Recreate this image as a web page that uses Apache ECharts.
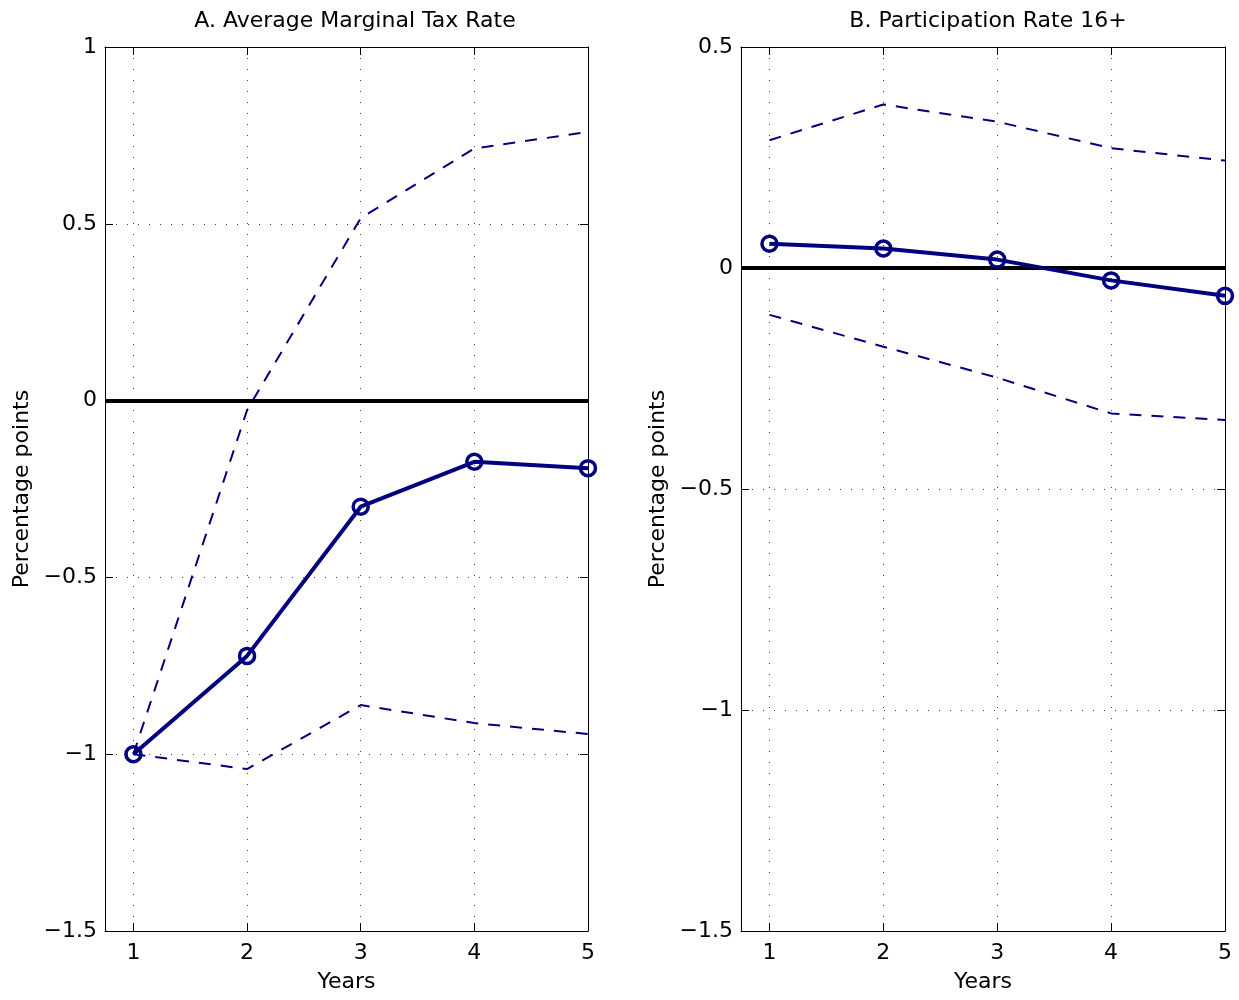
<!DOCTYPE html>
<html><head><meta charset="utf-8">
<script src="https://cdn.jsdelivr.net/npm/echarts@6/dist/echarts.min.js"></script>
<style>html,body{margin:0;padding:0;background:#fff}#c{width:1239px;height:1000px}</style>
</head><body><div id="c"></div>
<script>
const years = [1, 2, 3, 4, 5];
const xTicks = [1, 2, 3, 4, 5];
const titles = ['A. Average Marginal Tax Rate', 'B. Participation Rate 16+'];
const taxMain  = [-1.0, -0.722, -0.300, -0.173, -0.191];
const taxUpper = [-1.0, -0.027, 0.516, 0.713, 0.760];
const taxLower = [-1.0, -1.042, -0.861, -0.912, -0.943];
const partMain  = [0.055, 0.044, 0.019, -0.028, -0.063];
const partUpper = [0.289, 0.370, 0.331, 0.271, 0.243];
const partLower = [-0.106, -0.178, -0.248, -0.329, -0.344];
const yTicksA = [-1.5, -1, -0.5, 0, 0.5, 1];
const yTicksB = [-1.5, -1, -0.5, 0, 0.5];

const FONT = 'DejaVu Sans';
const FS = 22;
const NAVY = '#000080';
const fmt = v => String(v).replace('-', '\u2212');
const pair = arr => years.map((x, i) => [x, arr[i]]);

const grids = [
  {left: 105, right: 651, top: 47, bottom: 69},
  {left: 741, right: 14, top: 47, bottom: 69}
];
const dotted = {show: true, lineStyle: {color: '#444', type: [1, 10], width: 1}};
const axisLine = {show: true, onZero: false, lineStyle: {color: '#000', width: 1}};
const tick = {show: true, inside: true, length: 8, lineStyle: {color: '#000'}, customValues: xTicks};

const xAxis = [], yAxis = [], series = [];
[0, 1].forEach(g => {
  const ymax = g === 0 ? 1 : 0.5;
  xAxis.push({
    type: 'value', gridIndex: g, min: 0.75, max: 5, position: 'bottom',
    axisLine, axisTick: tick, splitLine: dotted,
    axisLabel: {customValues: xTicks, fontFamily: FONT, fontSize: FS, color: '#000', margin: 11, formatter: fmt},
    name: 'Years', nameLocation: 'middle', nameGap: 40,
    nameTextStyle: {fontFamily: FONT, fontSize: FS, color: '#000'}
  });
  xAxis.push({
    type: 'value', gridIndex: g, min: 0.75, max: 5, position: 'top',
    axisLine, axisTick: tick, splitLine: {show: false}, axisLabel: {show: false}
  });
  yAxis.push({
    type: 'value', gridIndex: g, min: -1.5, max: ymax, interval: 0.5, position: 'left',
    axisLine, axisTick: {show: true, inside: true, length: 8, lineStyle: {color: '#000'}},
    splitLine: dotted,
    axisLabel: {fontFamily: FONT, fontSize: FS, color: '#000', margin: 8, formatter: fmt},
    name: 'Percentage points', nameLocation: 'middle', nameGap: 72, nameRotate: 90,
    nameTextStyle: {fontFamily: FONT, fontSize: FS, color: '#000'}
  });
  yAxis.push({
    type: 'value', gridIndex: g, min: -1.5, max: ymax, interval: 0.5, position: 'right',
    axisLine, axisTick: {show: true, inside: true, length: 8, lineStyle: {color: '#000'}},
    splitLine: {show: false}, axisLabel: {show: false}
  });
  const xi = g * 2, yi = g * 2;
  const main = g === 0 ? taxMain : partMain;
  const up = g === 0 ? taxUpper : partUpper;
  const lo = g === 0 ? taxLower : partLower;
  [up, lo].forEach(d => series.push({
    type: 'line', xAxisIndex: xi, yAxisIndex: yi, data: pair(d), symbol: 'none',
    lineStyle: {color: NAVY, width: 2, type: [12, 10]}, z: 3, silent: true
  }));
  series.push({
    type: 'line', xAxisIndex: xi, yAxisIndex: yi, data: pair(main),
    symbol: 'circle', symbolSize: 15,
    itemStyle: {color: 'rgba(255,255,255,0)', borderColor: NAVY, borderWidth: 3.5},
    lineStyle: {color: NAVY, width: 4}, z: 5, silent: true,
    markLine: {silent: true, symbol: 'none', label: {show: false},
      lineStyle: {color: '#000', width: 4, type: 'solid'}, data: [{yAxis: 0}], z: 4}
  });
});

const chart = echarts.init(document.getElementById('c'));
chart.setOption({
  animation: false,
  backgroundColor: '#fff',
  title: titles.map((t, i) => ({
    text: t, left: i === 0 ? 350 : 983, top: 5, textAlign: 'center',
    textStyle: {fontFamily: FONT, fontSize: FS, fontWeight: 'normal', color: '#000'}
  })),
  grid: grids,
  xAxis, yAxis, series
});
</script></body></html>
